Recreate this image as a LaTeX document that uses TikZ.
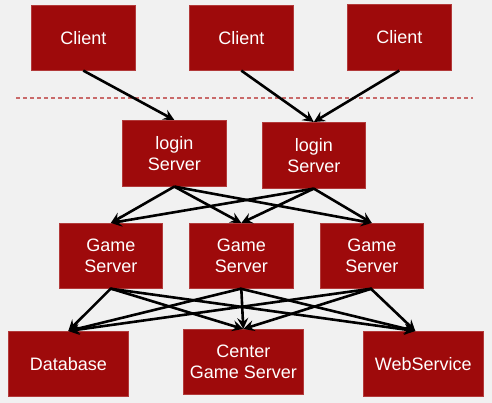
\documentclass[tikz,border=0pt]{standalone}
\usepackage{fontspec}
\setmainfont{Liberation Sans}
\usetikzlibrary{arrows.meta}
\definecolor{boxred}{HTML}{9E0A0B}
\definecolor{boxedge}{HTML}{B23A3A}
\definecolor{bg}{HTML}{F1F1F1}
\definecolor{dashred}{HTML}{C96A6A}
\begin{document}
\begin{tikzpicture}[x=1pt,y=-1pt,
  box/.style={fill=boxred,draw=boxedge,line width=0.6pt,text=white,font=\fontsize{18}{21}\selectfont,align=center,inner sep=0pt,anchor=north west},
  link/.style={line width=2.6pt,-{Stealth[length=11pt,width=11pt,inset=4pt]},shorten >=0pt}]
\fill[bg] (0,0) rectangle (492,403);
\useasboundingbox (0,0) rectangle (492,403);
% clients
\node[box,minimum width=104pt,minimum height=65pt] (c1) at (31,5) {Client};
\node[box,minimum width=104pt,minimum height=65pt] (c2) at (189,5) {Client};
\node[box,minimum width=104pt,minimum height=66pt] (c3) at (347,4) {Client};
% dashed separator
\coordinate (dl) at (16,98);
\coordinate (dr) at (473,98);
\draw[dashred,line width=1.2pt,dash pattern=on 4pt off 3pt] (dl) -- (dr);
% login servers
\node[box,minimum width=104pt,minimum height=66pt] (l1) at (122,120) {login\\Server};
\node[box,minimum width=103pt,minimum height=66pt] (l2) at (262,122) {login\\Server};
% game servers
\node[box,minimum width=103pt,minimum height=65pt] (g1) at (59,223) {Game\\Server};
\node[box,minimum width=104pt,minimum height=65pt] (g2) at (189,223) {Game\\Server};
\node[box,minimum width=103pt,minimum height=65pt] (g3) at (320,223) {Game\\Server};
% bottom row
\node[box,minimum width=120pt,minimum height=65pt] (db) at (8,331) {Database};
\node[box,minimum width=120pt,minimum height=65pt] (cg) at (183,329) {Center\\Game Server};
\node[box,minimum width=120pt,minimum height=65pt] (ws) at (363,331) {WebService};
% arrows
\draw[link] (c1.south) -- (l1.north);
\draw[link] (c2.south) -- (l2.north);
\draw[link] (c3.south) -- (l2.north);
\foreach \l in {l1,l2}{
  \foreach \g in {g1,g2,g3}{
    \draw[link] (\l.south) -- (\g.north);
  }
}
\foreach \g in {g1,g2,g3}{
  \draw[link] (\g.south) -- (db.north);
  \draw[link] (\g.south) -- (cg.north);
  \draw[link] ([xshift=-1pt]\g.south) -- ([xshift=-8pt]ws.north);
}
\end{tikzpicture}
\end{document}
